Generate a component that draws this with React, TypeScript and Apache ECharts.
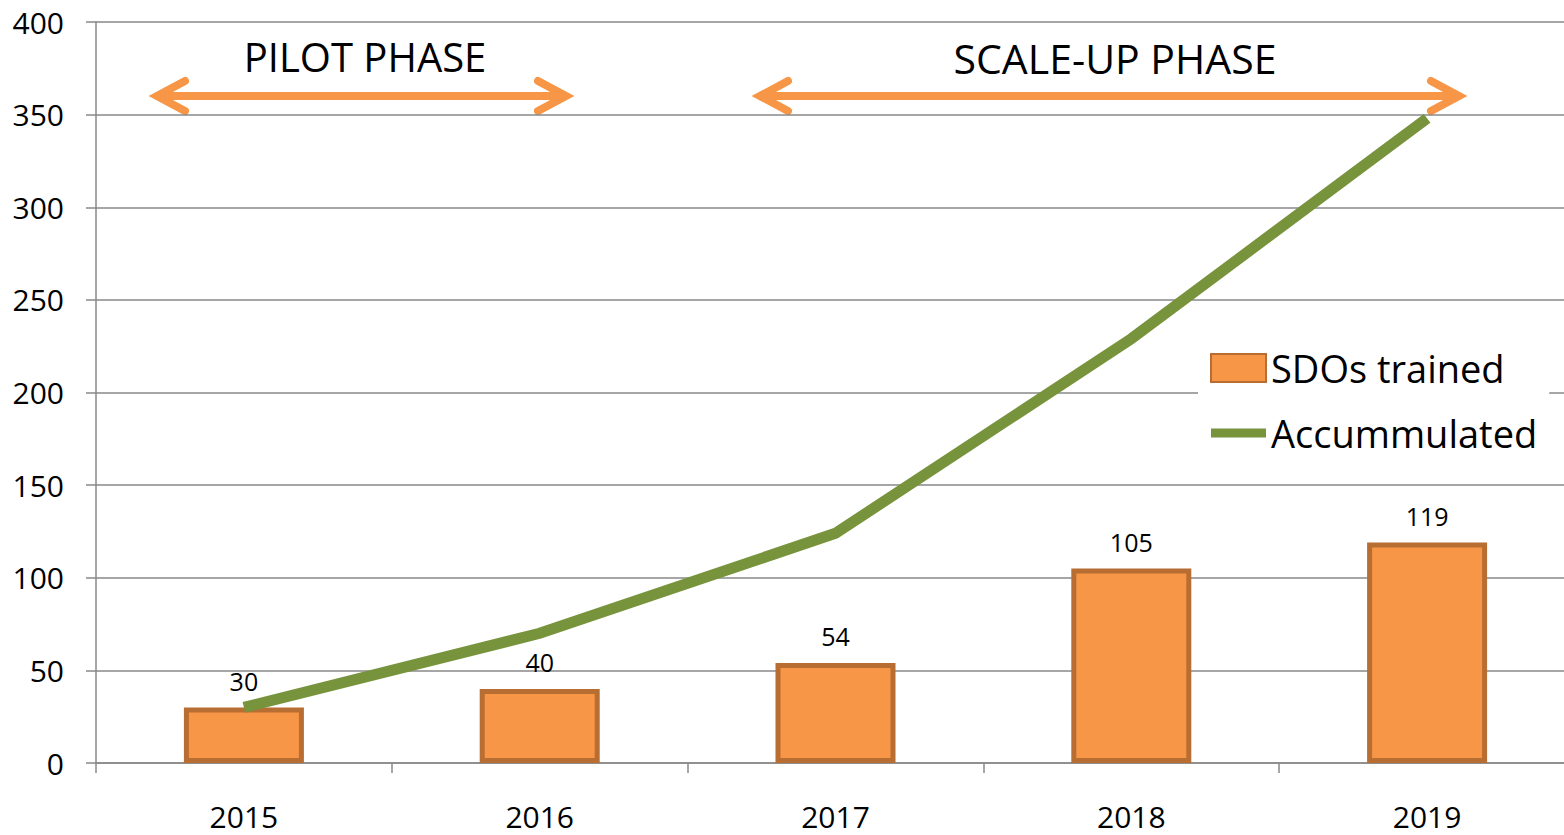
import React, { useEffect, useRef } from "react";
import * as echarts from "echarts";

const years = ["2015", "2016", "2017", "2018", "2019"];
const sdosTrained = [30, 40, 54, 105, 119];
const accumulated = [30, 70, 124, 229, 348];
const phaseLabels = ["PILOT PHASE", "SCALE-UP PHASE"];
const seriesNames = ["SDOs trained", "Accummulated"];

const FONT = "'Open Sans', 'Noto Sans', sans-serif";
const ORANGE = "#F79646";
const ORANGE_DARK = "#B86D32";
const GREEN = "#77933C";
const GRID = "#888888";

function arrow(x1: number, x2: number, y: number) {
  const style = { stroke: ORANGE, lineWidth: 8, lineCap: "round", lineJoin: "miter", miterLimit: 10, fill: null };
  return [
    { type: "line", shape: { x1: x1 + 6, y1: y, x2: x2 - 6, y2: y }, style: { ...style, lineCap: "butt" }, silent: true },
    { type: "polyline", shape: { points: [[x1 + 28, y - 15], [x1, y], [x1 + 28, y + 15]] }, style, silent: true },
    { type: "polyline", shape: { points: [[x2 - 28, y - 15], [x2, y], [x2 - 28, y + 15]] }, style, silent: true },
  ];
}

export default function App() {
  const ref = useRef<HTMLDivElement>(null);
  useEffect(() => {
    if (!ref.current) return;
    const chart = echarts.init(ref.current, null, { renderer: "svg" });
    chart.setOption({
      animation: false,
      backgroundColor: "#ffffff",
      textStyle: { fontFamily: FONT },
      grid: { left: 96, right: 0, top: 22, bottom: 72, containLabel: false },
      xAxis: {
        type: "category",
        data: years,
        boundaryGap: true,
        axisLine: { lineStyle: { color: GRID, width: 1.5 } },
        axisTick: { show: true, length: 10, inside: false, lineStyle: { color: GRID, width: 1.5 } },
        axisLabel: { fontSize: 30, color: "#000", margin: 38, fontFamily: FONT },
      },
      yAxis: {
        type: "value",
        min: 0,
        max: 400,
        interval: 50,
        axisLine: { show: true, lineStyle: { color: GRID, width: 1.5 } },
        axisTick: { show: true, length: 10, lineStyle: { color: GRID, width: 1.5 } },
        axisLabel: { fontSize: 30, color: "#000", margin: 32, fontFamily: FONT },
        splitLine: { show: true, lineStyle: { color: GRID, width: 1.5 } },
      },
      legend: {
        orient: "vertical",
        left: 1198,
        top: 343,
        padding: [6, 12, 6, 12],
        backgroundColor: "#ffffff",
        itemWidth: 55,
        itemHeight: 28,
        itemGap: 27,
        textStyle: { fontSize: 38, color: "#000", fontFamily: FONT },
        data: [
          { name: seriesNames[0], icon: "rect" },
          { name: seriesNames[1], icon: "path://M0,0L55,0L55,9L0,9Z" },
        ],
        z: 10,
      },
      series: [
        {
          name: seriesNames[0],
          type: "bar",
          data: sdosTrained,
          barWidth: 120,
          itemStyle: { color: ORANGE, borderColor: ORANGE_DARK, borderWidth: 5 },
          label: { show: true, position: "top", distance: 14, fontSize: 25, color: "#000", fontFamily: FONT },
          z: 2,
        },
        {
          name: seriesNames[1],
          type: "line",
          data: accumulated,
          symbol: "none",
          lineStyle: { color: GREEN, width: 11, cap: "butt", join: "miter" },
          itemStyle: { color: GREEN, borderWidth: 0 },
          z: 3,
        },
      ],
      graphic: [
        ...arrow(157, 566, 96),
        ...arrow(760, 1459, 96),
        {
          type: "text",
          x: 365,
          y: 56,
          style: { text: phaseLabels[0], font: `40px ${FONT}`, fill: "#000", align: "center", verticalAlign: "middle" },
          silent: true,
        },
        {
          type: "text",
          x: 1115,
          y: 58,
          style: { text: phaseLabels[1], font: `41px ${FONT}`, fill: "#000", align: "center", verticalAlign: "middle" },
          silent: true,
        },
      ],
    });
    return () => chart.dispose();
  }, []);
  return (
    <div
      style={{ position: "fixed", left: 0, top: 0, width: 1564, height: 835, overflow: "hidden", background: "#fff" }}
    >
      <div ref={ref} style={{ width: 1575, height: 835 }} />
    </div>
  );
}
